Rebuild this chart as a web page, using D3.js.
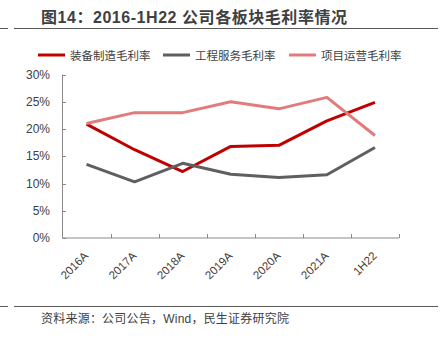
<!DOCTYPE html>
<html><head><meta charset="utf-8">
<script src="https://cdn.jsdelivr.net/npm/d3@7"></script>
<style>body{margin:0;background:#fff}svg{display:block}</style>
</head><body><svg id="c" width="445" height="346"></svg>
<script>
const categories = ["2016A","2017A","2018A","2019A","2020A","2021A","1H22"];
const equipMargin = [20.9, 16.2, 12.2, 16.8, 17.0, 21.5, 24.9];
const engMargin   = [13.5, 10.3, 13.7, 11.7, 11.1, 11.6, 16.6];
const projMargin  = [21.0, 23.0, 23.0, 25.0, 23.7, 25.8, 18.8];
const seriesNames = ["装备制造毛利率","工程服务毛利率","项目运营毛利率"];
const yTicks = [0,5,10,15,20,25,30];

const colors = ["#C00000","#5F5F5F","#E27B7B"];
const series = [equipMargin, engMargin, projMargin];
const font = "'Liberation Sans','Noto Sans CJK SC',sans-serif";
const svg = d3.select("#c");

// title and rules
svg.append("text").attr("x",41).attr("y",23).attr("font-family",font)
  .attr("font-weight","bold").attr("font-size",16).attr("fill","#404040")
  .attr("textLength",306).attr("lengthAdjust","spacing")
  .text("图14：2016-1H22 公司各板块毛利率情况");
[28.5,306.5].forEach(yy=>{
  svg.append("line").attr("x1",0).attr("x2",8).attr("y1",yy).attr("y2",yy).attr("stroke","#595959").attr("stroke-width",1);
  svg.append("line").attr("x1",14).attr("x2",438).attr("y1",yy).attr("y2",yy).attr("stroke","#595959").attr("stroke-width",1);
});
svg.append("text").attr("x",41).attr("y",323).attr("font-family",font)
  .attr("font-size",12).attr("fill","#404040")
  .attr("textLength",248).attr("lengthAdjust","spacing")
  .text("资料来源：公司公告，Wind，民生证券研究院");

const x = d3.scaleBand().domain(categories).range([62.5,399]);
const y = d3.scaleLinear().domain([0,30]).range([238,74.5]);

// axes
const xa = svg.append("g").attr("transform","translate(0,238)");
xa.append("line").attr("x1",62.5).attr("x2",399).attr("stroke","#898989");
const bounds = categories.map(c=>x(c)).concat([x.range()[1]]);
xa.selectAll("line.t").data(bounds.slice(1)).enter().append("line")
  .attr("x1",d=>Math.round(d)+0.5).attr("x2",d=>Math.round(d)+0.5).attr("y1",0).attr("y2",-4).attr("stroke","#898989");
xa.selectAll("text").data(categories).enter().append("text")
  .attr("transform",d=>`translate(${x(d)+x.bandwidth()/2+2.5},${18.5}) rotate(-45)`)
  .attr("text-anchor","end").attr("font-family",font).attr("font-size",11.5)
  .attr("fill","#404040").text(d=>d);

const ya = svg.append("g");
ya.append("line").attr("x1",62.5).attr("x2",62.5).attr("y1",y(0)).attr("y2",y(30)).attr("stroke","#898989");
ya.selectAll("line.t").data(yTicks).enter().append("line")
  .attr("x1",62.5).attr("x2",66).attr("y1",d=>Math.round(y(d))+0.5).attr("y2",d=>Math.round(y(d))+0.5).attr("stroke","#898989");
ya.selectAll("text").data(yTicks).enter().append("text")
  .attr("x",50).attr("y",d=>y(d)+4).attr("text-anchor","end")
  .attr("font-family",font).attr("font-size",12).attr("fill","#404040").text(d=>d+"%");

// lines
const line = d3.line().x((d,i)=>x(categories[i])+x.bandwidth()/2).y(d=>y(d));
series.forEach((s,i)=>{
  svg.append("path").datum(s).attr("d",line).attr("fill","none")
    .attr("stroke",colors[i]).attr("stroke-width",3).attr("stroke-linejoin","round");
});

// legend
const legX = [38,163,289];
seriesNames.forEach((n,i)=>{
  svg.append("line").attr("x1",legX[i]).attr("x2",legX[i]+27).attr("y1",55).attr("y2",55)
    .attr("stroke",colors[i]).attr("stroke-width",3);
  svg.append("text").attr("x",legX[i]+32).attr("y",59.5).attr("font-family",font)
    .attr("font-size",11.5).attr("fill","#404040").text(n);
});
</script></body></html>
